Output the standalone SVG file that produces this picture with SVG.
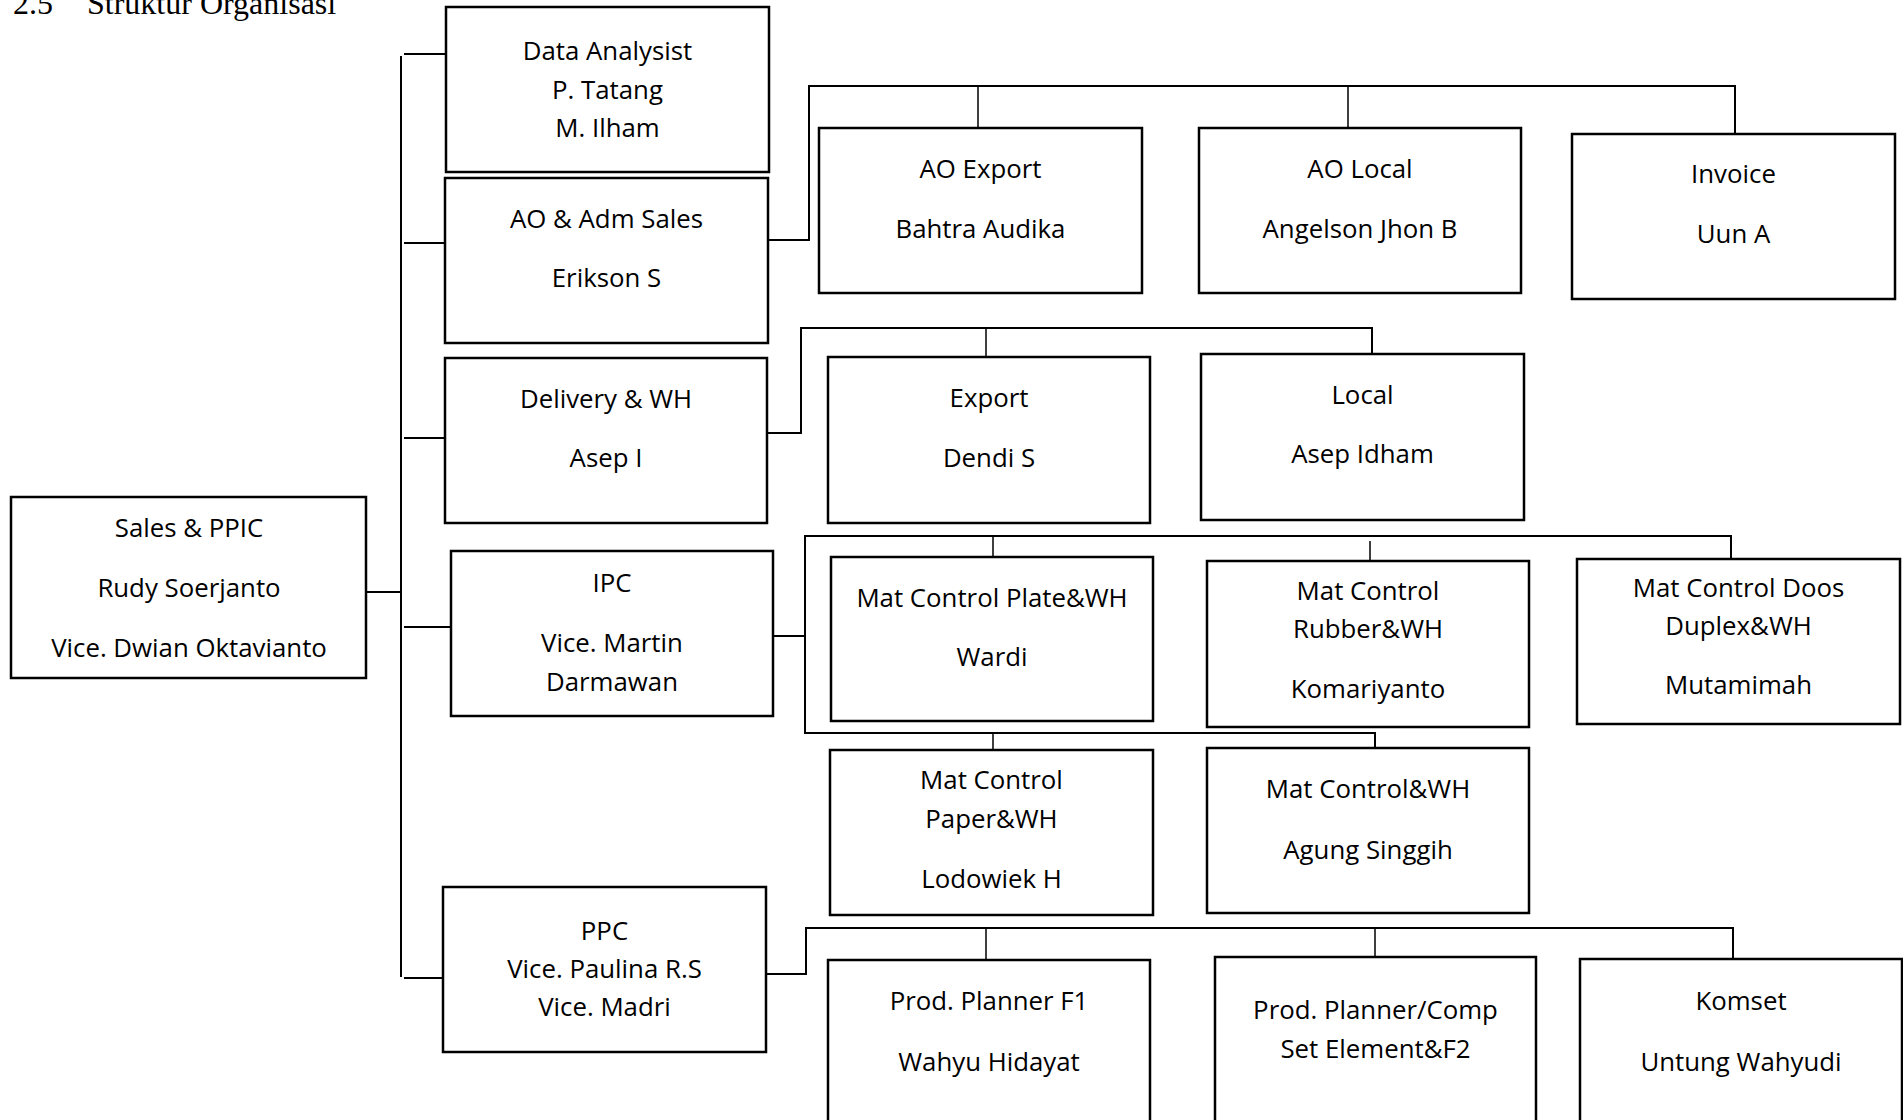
<svg xmlns="http://www.w3.org/2000/svg" width="1903" height="1120" viewBox="0 0 1903 1120">
<style>
.bg{fill:#fff}
.box{fill:#fff;stroke:#000;stroke-width:2.5}
.ln{fill:none;stroke:#000;stroke-width:2}
.lt{fill:none;stroke:#000;stroke-width:1.5}
.t{font-family:"Open Sans","Liberation Sans",sans-serif;font-size:25.8px;fill:#000;text-anchor:middle}
.title{font-family:"Liberation Serif","Times New Roman",serif;font-size:32px;fill:#000}
</style>
<rect class="bg" x="0" y="0" width="1903" height="1120"/>
<text class="title" x="13" y="14">2.5</text>
<text class="title" x="87" y="14">Struktur Organisasi</text>

<g id="connectors">
  <path class="ln" d="M401 56V977"/>
  <path class="ln" d="M362 592H401"/>
  <path class="ln" d="M404 54H446M404 243H445M404 438H445M404 627H451M404 978H443"/>
  <path class="ln" d="M768 240H809V86H1735V134"/>
  <path class="lt" d="M978 86V128M1348 86V128"/>
  <path class="ln" d="M767 433H801V328H1372V354"/>
  <path class="lt" d="M986 328V357"/>
  <path class="ln" d="M773 636H805"/>
  <path class="ln" d="M1731 559V536H805V733H1375V748"/>
  <path class="lt" d="M993 536V560M1370 541V561M993 733V750"/>
  <path class="ln" d="M766 974H806V928H1733V959"/>
  <path class="lt" d="M986 928V960M1375 928V957"/>
</g>

<g id="root">
  <rect class="box" x="11" y="497" width="355" height="181"/>
  <text class="t" x="189" y="537">Sales &amp; PPIC</text>
  <text class="t" x="189" y="597">Rudy Soerjanto</text>
  <text class="t" x="189" y="657">Vice. Dwian Oktavianto</text>
</g>
<g id="data-analysist">
  <rect class="box" x="446" y="7" width="323" height="165"/>
  <text class="t" x="607.5" y="60">Data Analysist</text>
  <text class="t" x="607.5" y="99">P. Tatang</text>
  <text class="t" x="607.5" y="137">M. Ilham</text>
</g>
<g id="ao-adm-sales">
  <rect class="box" x="445" y="178" width="323" height="165"/>
  <text class="t" x="606.5" y="228">AO &amp; Adm Sales</text>
  <text class="t" x="606.5" y="287">Erikson S</text>
</g>
<g id="delivery-wh">
  <rect class="box" x="445" y="358" width="322" height="165"/>
  <text class="t" x="606" y="408">Delivery &amp; WH</text>
  <text class="t" x="606" y="467">Asep I</text>
</g>
<g id="ipc">
  <rect class="box" x="451" y="551" width="322" height="165"/>
  <text class="t" x="612" y="592">IPC</text>
  <text class="t" x="612" y="652">Vice. Martin</text>
  <text class="t" x="612" y="691">Darmawan</text>
</g>
<g id="ppc">
  <rect class="box" x="443" y="887" width="323" height="165"/>
  <text class="t" x="604.5" y="940">PPC</text>
  <text class="t" x="604.5" y="978">Vice. Paulina R.S</text>
  <text class="t" x="604.5" y="1016">Vice. Madri</text>
</g>

<g id="ao-export">
  <rect class="box" x="819" y="128" width="323" height="165"/>
  <text class="t" x="980.5" y="178">AO Export</text>
  <text class="t" x="980.5" y="238">Bahtra Audika</text>
</g>
<g id="ao-local">
  <rect class="box" x="1199" y="128" width="322" height="165"/>
  <text class="t" x="1360" y="178">AO Local</text>
  <text class="t" x="1360" y="238">Angelson Jhon B</text>
</g>
<g id="invoice">
  <rect class="box" x="1572" y="134" width="323" height="165"/>
  <text class="t" x="1733.5" y="183">Invoice</text>
  <text class="t" x="1733.5" y="243">Uun A</text>
</g>

<g id="export">
  <rect class="box" x="828" y="357" width="322" height="166"/>
  <text class="t" x="989" y="407">Export</text>
  <text class="t" x="989" y="467">Dendi S</text>
</g>
<g id="local">
  <rect class="box" x="1201" y="354" width="323" height="166"/>
  <text class="t" x="1362.5" y="404">Local</text>
  <text class="t" x="1362.5" y="463">Asep Idham</text>
</g>

<g id="mat-plate">
  <rect class="box" x="831" y="557" width="322" height="164"/>
  <text class="t" x="992" y="607">Mat Control Plate&amp;WH</text>
  <text class="t" x="992" y="666">Wardi</text>
</g>
<g id="mat-rubber">
  <rect class="box" x="1207" y="561" width="322" height="166"/>
  <text class="t" x="1368" y="600">Mat Control</text>
  <text class="t" x="1368" y="638">Rubber&amp;WH</text>
  <text class="t" x="1368" y="698">Komariyanto</text>
</g>
<g id="mat-doos">
  <rect class="box" x="1577" y="559" width="323" height="165"/>
  <text class="t" x="1738.5" y="597">Mat Control Doos</text>
  <text class="t" x="1738.5" y="635">Duplex&amp;WH</text>
  <text class="t" x="1738.5" y="694">Mutamimah</text>
</g>
<g id="mat-paper">
  <rect class="box" x="830" y="750" width="323" height="165"/>
  <text class="t" x="991.5" y="789">Mat Control</text>
  <text class="t" x="991.5" y="828">Paper&amp;WH</text>
  <text class="t" x="991.5" y="888">Lodowiek H</text>
</g>
<g id="mat-wh">
  <rect class="box" x="1207" y="748" width="322" height="165"/>
  <text class="t" x="1368" y="798">Mat Control&amp;WH</text>
  <text class="t" x="1368" y="859">Agung Singgih</text>
</g>

<g id="planner-f1">
  <rect class="box" x="828" y="960" width="322" height="200"/>
  <text class="t" x="989" y="1010">Prod. Planner F1</text>
  <text class="t" x="989" y="1071">Wahyu Hidayat</text>
</g>
<g id="planner-comp">
  <rect class="box" x="1215" y="957" width="321" height="200"/>
  <text class="t" x="1375.5" y="1019">Prod. Planner/Comp</text>
  <text class="t" x="1375.5" y="1058">Set Element&amp;F2</text>
</g>
<g id="komset">
  <rect class="box" x="1580" y="959" width="322" height="200"/>
  <text class="t" x="1741" y="1010">Komset</text>
  <text class="t" x="1741" y="1071">Untung Wahyudi</text>
</g>
</svg>
